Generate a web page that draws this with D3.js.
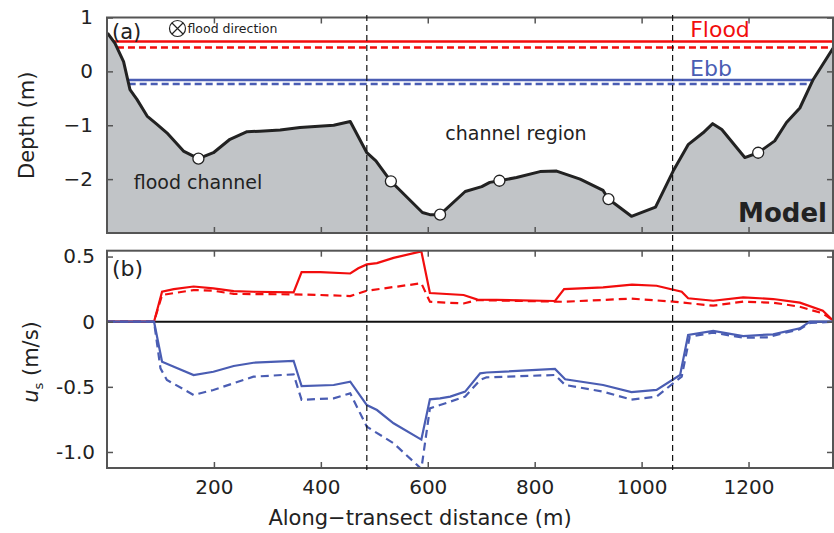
<!DOCTYPE html>
<html lang="en">
<head>
    <meta charset="UTF-8">
    <title>Model transect</title>
    <script src="https://cdn.jsdelivr.net/npm/d3@7"></script>
    <style>
        body { margin: 0; background: #fff; font-family: "DejaVu Sans", sans-serif; }
        .tick text { font-family: "DejaVu Sans", sans-serif; font-size: 20px; fill: #222; }
        .tick line { stroke: #555; stroke-width: 1.5; }
        .domain { display: none; }
        .frame { fill: none; stroke: #555; stroke-width: 2; }
    </style>
</head>
<body>
<svg id="chart" width="834" height="533"></svg>
<script>
    // bathymetry: along-transect distance (m) and depth (m)
    const bathyDist  = [1, 15, 31, 43, 56, 75, 93, 112, 143, 171, 199, 230, 262, 286, 324, 361, 424, 455,
                        486, 503, 531, 590, 604, 623, 670, 701, 716, 734, 766, 810, 841, 885, 928, 938, 981,
                        1026, 1059, 1087, 1115, 1133, 1150, 1193, 1218, 1249, 1271, 1296, 1321, 1358];
    const bathyDepth = [0.71, 0.52, 0.18, -0.34, -0.52, -0.83, -0.98, -1.14, -1.48, -1.62, -1.51, -1.26, -1.12, -1.11, -1.09, -1.04, -1.00, -0.93,
                        -1.51, -1.66, -2.04, -2.62, -2.66, -2.66, -2.23, -2.14, -2.06, -2.03, -1.97, -1.86, -1.85, -2.00, -2.21, -2.37, -2.69,
                        -2.52, -1.85, -1.36, -1.14, -0.97, -1.08, -1.60, -1.51, -1.29, -0.95, -0.68, -0.15, 0.43];
    const stationDist = [171, 531, 623, 734, 938, 1218];

    // surface levels (m)
    const floodLevel = [0.553, 0.443];   // solid, dashed
    const ebbLevel   = [-0.159, -0.233];

    // section boundaries (m)
    const regionBounds = [486, 1058];

    // streamwise velocity u_s (m/s)
    const floodSolidDist = [0, 88, 103, 125, 162, 199, 237, 274, 349, 364, 399, 455, 470, 486, 505, 536, 588,
                            604, 667, 693, 729, 838, 855, 928, 982, 1028, 1075, 1087, 1134, 1190, 1246, 1296, 1339, 1358];
    const floodSolidU    = [0, 0, 0.23, 0.25, 0.27, 0.256, 0.235, 0.23, 0.225, 0.38, 0.38, 0.37, 0.41, 0.44, 0.45, 0.49, 0.54,
                            0.22, 0.205, 0.17, 0.167, 0.159, 0.25, 0.264, 0.285, 0.276, 0.23, 0.18, 0.161, 0.187, 0.174, 0.146, 0.084, 0.01];
    const floodDashDist  = [0, 88, 103, 162, 199, 237, 349, 399, 455, 486, 588, 604, 667, 692, 853, 981, 1059, 1134, 1190, 1246, 1296, 1339, 1358];
    const floodDashU     = [0, 0, 0.205, 0.243, 0.238, 0.213, 0.21, 0.205, 0.197, 0.238, 0.295, 0.153, 0.14, 0.166, 0.153, 0.177, 0.154, 0.123, 0.154, 0.146, 0.115, 0.064, 0.01];
    const ebbSolidDist   = [0, 88, 103, 125, 162, 199, 237, 274, 349, 364, 424, 455, 486, 505, 536, 588,
                            604, 623, 642, 670, 698, 710, 838, 857, 928, 981, 1028, 1072, 1087, 1134, 1190, 1246, 1296, 1315, 1358];
    const ebbSolidU      = [0, 0, -0.307, -0.345, -0.41, -0.384, -0.34, -0.315, -0.30, -0.494, -0.486, -0.46, -0.64, -0.678, -0.78, -0.905,
                            -0.596, -0.588, -0.575, -0.537, -0.396, -0.39, -0.363, -0.442, -0.486, -0.54, -0.524, -0.409, -0.102, -0.071, -0.11, -0.097, -0.051, 0, 0];
    const ebbDashDist    = [0, 88, 100, 112, 162, 199, 274, 349, 364, 424, 455, 486, 536, 588,
                            604, 623, 670, 698, 710, 838, 857, 928, 981, 1028, 1059, 1075, 1090, 1134, 1190, 1234, 1296, 1315, 1358];
    const ebbDashU       = [0, 0, -0.358, -0.447, -0.5625, -0.524, -0.422, -0.404, -0.60, -0.588, -0.55, -0.806, -0.933, -1.13,
                            -0.665, -0.64, -0.575, -0.447, -0.427, -0.409, -0.486, -0.537, -0.598, -0.575, -0.473, -0.422, -0.115, -0.084, -0.123, -0.12, -0.058, -0.01, 0];

    const xTicks = [200, 400, 600, 800, 1000, 1200];
    const depthTicks = [-2, -1, 0, 1];
    const uTicks = [-1.0, -0.5, 0, 0.5];

    const red = "#f20d0d", blue = "#4a5db3";

    const svg = d3.select("#chart");
    const left = 107, right = 833;
    const x = d3.scaleLinear().domain([0, 1358]).range([left, right]);
    const yTop = d3.scaleLinear().domain([-3, 1]).range([233, 17.5]);
    const yBot = d3.scaleLinear().domain([-1.123, 0.545]).range([468, 250.7]);

    const zip = (a, b) => a.map((d, i) => [d, b[i]]);
    const bathy = zip(bathyDist, bathyDepth);
    const depthAt = d => {
        const i = d3.bisectLeft(bathyDist, d);
        if (i <= 0) return bathyDepth[0];
        if (i >= bathyDist.length) return bathyDepth[bathyDepth.length - 1];
        const t = (d - bathyDist[i - 1]) / (bathyDist[i] - bathyDist[i - 1]);
        return bathyDepth[i - 1] + t * (bathyDepth[i] - bathyDepth[i - 1]);
    };
    // where the water surface meets the bed
    function wetExtent(level) {
        let a = 0, b = 1358;
        for (let i = 1; i < bathy.length; i++) {
            const [d0, z0] = bathy[i - 1], [d1, z1] = bathy[i];
            if ((z0 - level) * (z1 - level) < 0) {
                const c = d0 + (level - z0) / (z1 - z0) * (d1 - d0);
                if (z0 > level) a = c; else b = c;
            }
        }
        return [a, b];
    }

    svg.append("defs").append("clipPath").attr("id", "clipB")
        .append("rect").attr("x", left).attr("y", yBot.range()[1]).attr("width", right - left).attr("height", 468 - 250.7);

    // ---------- panel (a) ----------
    const gA = svg.append("g");
    gA.append("path")
        .datum(bathy)
        .attr("fill", "#c1c4c7")
        .attr("d", d3.area().x(d => x(d[0])).y0(yTop(-3)).y1(d => yTop(d[1])));

    [[floodLevel, red], [ebbLevel, blue]].forEach(([lv, col]) => {
        lv.forEach((level, k) => {
            const [a, b] = wetExtent(level);
            gA.append("line")
                .attr("x1", x(a)).attr("x2", x(b))
                .attr("y1", yTop(level)).attr("y2", yTop(level))
                .attr("stroke", col).attr("stroke-width", 2.5)
                .attr("stroke-dasharray", k ? "7,4" : null);
        });
    });

    gA.append("path")
        .datum(bathy)
        .attr("fill", "none").attr("stroke", "#222").attr("stroke-width", 3)
        .attr("stroke-linejoin", "round")
        .attr("d", d3.line().x(d => x(d[0])).y(d => yTop(d[1])));

    gA.selectAll(".station")
        .data(stationDist)
        .join("circle")
        .attr("cx", d => x(d)).attr("cy", d => yTop(depthAt(d)))
        .attr("r", 5.5).attr("fill", "#fff").attr("stroke", "#222").attr("stroke-width", 1.3);

    gA.append("g").attr("transform", `translate(0,${yTop(-3)})`)
        .call(d3.axisBottom(x).tickValues(xTicks).tickSize(-6).tickFormat(""));
    gA.append("g").attr("transform", `translate(0,${yTop(1)})`)
        .call(d3.axisTop(x).tickValues(xTicks).tickSize(-6).tickFormat(""));
    gA.append("g").attr("transform", `translate(${left},0)`)
        .call(d3.axisLeft(yTop).tickValues(depthTicks).tickSize(-6).tickPadding(14).tickFormat(d3.format("d")));
    gA.append("g").attr("transform", `translate(${right},0)`)
        .call(d3.axisRight(yTop).tickValues(depthTicks).tickSize(-6).tickFormat(""));
    gA.append("rect").attr("class", "frame")
        .attr("x", left).attr("y", yTop(1)).attr("width", right - left).attr("height", yTop(-3) - yTop(1));

    gA.append("text").attr("x", 112).attr("y", 39).attr("font-size", 21).attr("fill", "#222").text("(a)");
    gA.append("circle").attr("cx", 177.5).attr("cy", 28.5).attr("r", 8).attr("fill", "none").attr("stroke", "#222").attr("stroke-width", 1.2);
    gA.append("path").attr("d", "M172,23L183,34M183,23L172,34").attr("stroke", "#222").attr("stroke-width", 1.2);
    gA.append("text").attr("x", 187.5).attr("y", 33).attr("font-size", 12.5).attr("fill", "#222").text("flood direction");
    gA.append("text").attr("x", 720).attr("y", 37).attr("text-anchor", "middle").attr("font-size", 22).attr("fill", red).text("Flood");
    gA.append("text").attr("x", 711).attr("y", 76).attr("text-anchor", "middle").attr("font-size", 22).attr("fill", blue).text("Ebb");
    gA.append("text").attr("x", 516).attr("y", 140).attr("text-anchor", "middle").attr("font-size", 19).attr("fill", "#222").text("channel region");
    gA.append("text").attr("x", 198).attr("y", 189).attr("text-anchor", "middle").attr("font-size", 19).attr("fill", "#222").text("flood channel");
    gA.append("text").attr("x", 827).attr("y", 222).attr("text-anchor", "end").attr("font-size", 26).attr("font-weight", "bold").attr("fill", "#222").text("Model");
    gA.append("text").attr("transform", `translate(34,${yTop(-1)}) rotate(-90)`)
        .attr("text-anchor", "middle").attr("font-size", 21).attr("fill", "#222").text("Depth (m)");

    // ---------- panel (b) ----------
    const gB = svg.append("g");
    gB.append("line")
        .attr("x1", left).attr("x2", right).attr("y1", yBot(0)).attr("y2", yBot(0))
        .attr("stroke", "#111").attr("stroke-width", 2);

    const uLine = d3.line().x(d => x(d[0])).y(d => yBot(d[1]));
    const series = [
        [floodSolidDist, floodSolidU, red, null],
        [floodDashDist, floodDashU, red, "8,5"],
        [ebbSolidDist, ebbSolidU, blue, null],
        [ebbDashDist, ebbDashU, blue, "8,5"]
    ];
    gB.append("g").attr("clip-path", "url(#clipB)")
        .selectAll("path")
        .data(series)
        .join("path")
        .attr("fill", "none")
        .attr("stroke", d => d[2]).attr("stroke-width", 2.2)
        .attr("stroke-dasharray", d => d[3])
        .attr("d", d => uLine(zip(d[0], d[1])));

    gB.append("g").attr("transform", `translate(0,468)`)
        .call(d3.axisBottom(x).tickValues(xTicks).tickSize(-6).tickPadding(12).tickFormat(d3.format("d")));
    gB.append("g").attr("transform", `translate(0,${yBot.range()[1]})`)
        .call(d3.axisTop(x).tickValues(xTicks).tickSize(-6).tickFormat(""));
    gB.append("g").attr("transform", `translate(${left},0)`)
        .call(d3.axisLeft(yBot).tickValues(uTicks).tickSize(-6).tickPadding(12)
            .tickFormat(d => d === 0 ? "0" : d3.format(".1f")(d).replace("−", "-")));
    gB.append("g").attr("transform", `translate(${right},0)`)
        .call(d3.axisRight(yBot).tickValues(uTicks).tickSize(-6).tickFormat(""));
    gB.append("rect").attr("class", "frame")
        .attr("x", left).attr("y", yBot.range()[1]).attr("width", right - left).attr("height", 468 - yBot.range()[1]);

    gB.append("text").attr("x", 112).attr("y", 276).attr("font-size", 22).attr("fill", "#222").text("(b)");

    const uLab = gB.append("text").attr("transform", `translate(38,362) rotate(-90)`)
        .attr("text-anchor", "middle").attr("font-size", 21).attr("fill", "#222");
    uLab.append("tspan").attr("font-style", "italic").text("u");
    uLab.append("tspan").attr("font-size", 13).attr("dy", 5).text("s");
    uLab.append("tspan").attr("dy", -5).text(" (m/s)");

    // section boundaries across both panels
    svg.selectAll(".bound")
        .data(regionBounds)
        .join("line")
        .attr("x1", d => x(d)).attr("x2", d => x(d))
        .attr("y1", 15).attr("y2", 470)
        .attr("stroke", "#111").attr("stroke-width", 1.2).attr("stroke-dasharray", "6,4");

    svg.append("text").attr("x", 420).attr("y", 525).attr("text-anchor", "middle")
        .attr("font-size", 21).attr("fill", "#222").text("Along\u2212transect distance (m)");
</script>
</body>
</html>
